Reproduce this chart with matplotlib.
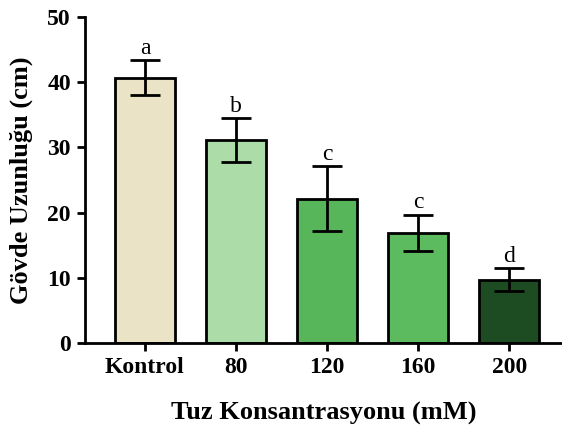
import numpy as np
import matplotlib
matplotlib.use('Agg')
import matplotlib.pyplot as plt

plt.rcParams['font.family'] = ['Liberation Serif', 'DejaVu Serif']

# veriler
kategoriler = ['Kontrol', '80', '120', '160', '200']
ortalama = [40.7, 31.1, 22.1, 16.9, 9.7]
hata = [2.7, 3.4, 5.0, 2.75, 1.75]
harfler = ['a', 'b', 'c', 'c', 'd']
renkler = ['#ebe3c6', '#acdca8', '#58b65a', '#5cbb5e', '#1e4c22']

fig = plt.figure(figsize=(5.62, 4.33), dpi=100)
ax = fig.add_axes([0.151, 0.208, 0.849, 0.753])

x = np.arange(len(kategoriler))
ax.bar(x, ortalama, width=0.66, color=renkler, edgecolor='black', linewidth=2,
       yerr=hata, capsize=11, error_kw=dict(elinewidth=2, capthick=2, ecolor='black'),
       zorder=2)

for xi, m, e, h in zip(x, ortalama, hata, harfler):
    ax.text(xi, m + e + 0.2, h, ha='center', va='bottom', fontsize=17)

ax.set_xlim(-0.66, 4.58)
ax.set_ylim(0, 50)
ax.set_yticks([0, 10, 20, 30, 40, 50])
ax.set_xticks(x)
ax.set_xticklabels(kategoriler)

for s in ['top', 'right']:
    ax.spines[s].set_visible(False)
for s in ['left', 'bottom']:
    ax.spines[s].set_linewidth(2)
ax.tick_params(width=2, length=6, labelsize=17, pad=4)
for lab in ax.get_xticklabels() + ax.get_yticklabels():
    lab.set_fontweight('bold')

ax.set_xlabel('Tuz Konsantrasyonu (mM)', fontsize=19, fontweight='bold', labelpad=17)
ax.set_ylabel('Gövde Uzunluğu (cm)', fontsize=19, fontweight='bold', labelpad=10)

fig.savefig('out.png', dpi=100)
